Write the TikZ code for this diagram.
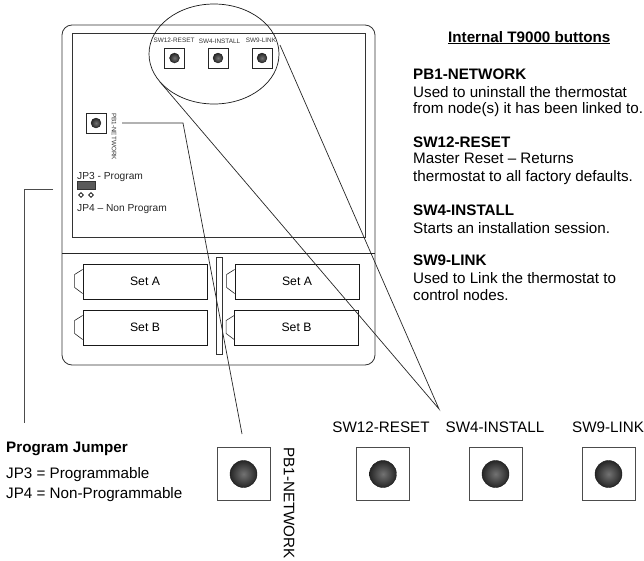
\documentclass[tikz,border=0pt]{standalone}
\usepackage{fontspec}
\setmainfont{Liberation Sans}
\usetikzlibrary{shapes.geometric,calc}
\tikzset{
  wire/.style={draw=black!85,line width=0.7pt},
  frame/.style={draw=black!80,line width=0.85pt},
  setbox/.style={draw=black!90,line width=0.8pt,minimum width=124pt,minimum height=35pt,inner sep=0pt,font=\fontsize{12.2}{14}\selectfont},
  setcap/.style={draw=black!85,line width=0.6pt},
  smallbox/.style={draw=black!85,line width=0.7pt,minimum size=20pt,inner sep=0pt},
  bigbox/.style={draw=black!70,line width=0.7pt,minimum size=53pt,inner sep=0pt},
  smallbtn/.style={circle,draw=black!90,line width=0.3pt,minimum size=10pt,inner sep=0pt,inner color=black!55,outer color=black!85},
  bigbtn/.style={circle,draw=black!90,line width=0.4pt,minimum size=27pt,inner sep=0pt,inner color=black!55,outer color=black!85},
  tinylabel/.style={inner sep=0pt,text=black!80,font=\fontsize{6.4}{7}\selectfont},
  jplabel/.style={inner sep=0pt,anchor=base west,text=black!85,font=\fontsize{10.2}{12}\selectfont},
  biglabel/.style={inner sep=0pt,font=\fontsize{15.2}{17}\selectfont},
  bodytext/.style={inner sep=0pt,anchor=base west,font=\fontsize{15.2}{17}\selectfont},
  headtext/.style={inner sep=0pt,anchor=base west,font=\fontsize{15.2}{17}\selectfont\bfseries},
  pin/.style={diamond,draw=black,line width=0.6pt,minimum size=5pt,inner sep=0pt}
}
\begin{document}
\begin{tikzpicture}[x=1pt,y=-1pt]
\useasboundingbox (0,0) rectangle (644,560);
% housing
\draw[frame,rounded corners=10pt] (62,25) rectangle (375,365);
\draw[frame] (72,33) rectangle (365,237);
\coordinate (divl) at (62,253);
\coordinate (divr) at (375,253);
\draw[wire] (divl) -- (divr);
\node[draw=black!80,line width=0.7pt,minimum width=6pt,minimum height=97pt,inner sep=0pt] (bar) at (219,305.5) {};
% battery sets
\node[setbox] (a1) at (145,281.5) {Set A};
\node[setbox] (b1) at (145,327.5) {Set B};
\node[setbox] (a2) at (297,281.5) {Set A};
\node[setbox] (b2) at (296.5,327.5) {Set B};
\foreach \n in {a1,b1,a2,b2}{
  \draw[setcap] ($(\n.west)+(0,-12)$) -- ++(-8,5) -- ++(0,13) -- ++(8,6);
}
% internal buttons
\node[smallbox] (s12) at (174.5,58) {};
\node[smallbox] (s4) at (218,58) {};
\node[smallbox] (s9) at (262,58) {};
\node[smallbox] (pb) at (96,123) {};
\foreach \n in {s12,s4,s9,pb}{ \node[smallbtn] at (\n) {}; }
\node[tinylabel] (ls12) at (174,40.5) {SW12-RESET};
\node[tinylabel] (ls4) at (219.5,41.5) {SW4-INSTALL};
\node[tinylabel] (ls9) at (261,40.5) {SW9-LINK};
\node[tinylabel,rotate=-90] (lpb) at (114,136.5) {PB1-NETWORK};
% jumper
\node[jplabel] (jp3) at (77,179.5) {JP3 - Program};
\node[jplabel] (jp4) at (77,211) {JP4 – Non Program};
\node[draw=black!80,fill=black!65,minimum width=18pt,minimum height=8pt,inner sep=0pt] (jump) at (86,185) {};
\node[pin] (p1) at (81,195) {};
\node[pin] (p2) at (91,195) {};
% ellipse
\node[ellipse,draw=black!90,line width=0.7pt,minimum width=130pt,minimum height=100pt,inner sep=0pt] (zoomring) at (214,54) {};
% large buttons
\node[bigbox] (BP) at (243.5,474) {};
\node[bigbox] (B12) at (383,474) {};
\node[bigbox] (B4) at (495.5,474) {};
\node[bigbox] (B9) at (608.5,474) {};
\foreach \n in {BP,B12,B4,B9}{ \node[bigbtn] at (\n) {}; }
\node[biglabel] (L12) at (381,427) {SW12-RESET};
\node[biglabel] (L4) at (495,427) {SW4-INSTALL};
\node[biglabel] (L9) at (608,427) {SW9-LINK};
\node[biglabel,rotate=-90] (LP) at (289,503) {PB1-NETWORK};
% connectors
\coordinate (pbs) at (122,123);
\coordinate (pbk) at (183,123);
\coordinate (pbe) at (242,434);
\draw[wire] (pbs) -- (pbk) -- (pbe);
\coordinate (apex) at (439,409);
\coordinate (rl) at (160,82);
\coordinate (rr) at (280,45);
\draw[wire] (rl) -- (apex) -- (rr);
\coordinate (jpa) at (53,189);
\coordinate (jpb) at (24,189);
\coordinate (jpc) at (24,423);
\draw[draw=black!70,line width=0.7pt] (jpa) -- (jpb) -- (jpc);
% right text
\node[headtext] (hd) at (448,42) {\underline{Internal T9000 buttons}};
\node[headtext] (t1) at (413,79) {PB1-NETWORK};
\node[bodytext] (t2) at (413,97) {Used to uninstall the thermostat};
\node[bodytext] (t3) at (413,113) {from node(s) it has been linked to.};
\node[headtext] (t4) at (413,147) {SW12-RESET};
\node[bodytext] (t5) at (413,163) {Master Reset – Returns};
\node[bodytext] (t6) at (413,181) {thermostat to all factory defaults.};
\node[headtext] (t7) at (413,215) {SW4-INSTALL};
\node[bodytext] (t8) at (413,233) {Starts an installation session.};
\node[headtext] (t9) at (413,265) {SW9-LINK};
\node[bodytext] (t10) at (413,283) {Used to Link the thermostat to};
\node[bodytext] (t11) at (413,300) {control nodes.};
% left text
\node[headtext] (q1) at (6,452) {Program Jumper};
\node[bodytext] (q2) at (6,478) {JP3 = Programmable};
\node[bodytext] (q3) at (6,498) {JP4 = Non-Programmable};
\end{tikzpicture}
\end{document}
